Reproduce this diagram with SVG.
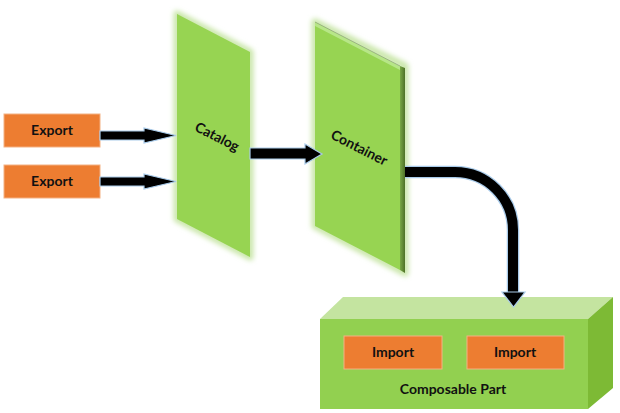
<svg xmlns="http://www.w3.org/2000/svg" width="620" height="413" viewBox="0 0 620 413">
<defs>
<style>
.lbl{font-family:Lato,"Liberation Sans",Arial,sans-serif;font-weight:bold;font-size:14px;fill:#111;text-anchor:middle}
.orange{fill:#ED7D31;stroke:#F4B183;stroke-width:1}
.panel{fill:#97D452}
.halo{fill:none;stroke:#C9E6A9;stroke-width:7;stroke-linejoin:round}
.arr{fill:#000;stroke:#A9CBEA;stroke-width:1.2;stroke-linejoin:miter}
</style>
<filter id="blur" x="-20%" y="-20%" width="140%" height="140%"><feGaussianBlur stdDeviation="2.5"/></filter>
<linearGradient id="side" x1="0" y1="0" x2="1" y2="0">
<stop offset="0" stop-color="#78A845"/><stop offset="1" stop-color="#4E7128"/>
</linearGradient>
</defs>
<rect width="620" height="413" fill="#fff"/>

<g id="export1">
<rect class="orange" x="4" y="114" width="96" height="33"/>
<text class="lbl" x="52" y="135">Export</text>
</g>
<g id="export2">
<rect class="orange" x="4" y="165" width="96" height="33"/>
<text class="lbl" x="52" y="186">Export</text>
</g>

<g id="catalog">
<polygon class="halo" filter="url(#blur)" points="177,14 250,52 250,257 177,219"/>
<polygon class="panel" points="177,14 250,52 250,257 177,219"/>
<text class="lbl" transform="translate(215,141) rotate(27)" x="0" y="0">Catalog</text>
</g>

<g id="container">
<polygon class="halo" filter="url(#blur)" points="315,22 405,66 405,273 315,226"/>
<polygon class="panel" points="315,22 400,68 400,270 315,226"/>
<polygon fill="#B7E688" points="315,22 400,66 400,70 315,26"/>
<line x1="315" y1="22" x2="400" y2="66" stroke="#8FA77A" stroke-width="0.8"/>
<polygon fill="url(#side)" points="400,66 405,68 405,273 400,270"/>
<text class="lbl" transform="translate(357,152) rotate(27)" x="0" y="0">Container</text>
</g>

<g id="composable">
<polygon fill="#C4E4A0" points="320,319 588,319 613,297 343,297"/>
<polygon fill="#7DBA35" points="588,319 613,297 613,388 588,409"/>
<rect x="320" y="319" width="268" height="90" fill="#92D050"/>
<g id="import1">
<rect class="orange" x="344" y="336" width="98" height="33"/>
<text class="lbl" x="393" y="357">Import</text>
</g>
<g id="import2">
<rect class="orange" x="467" y="336" width="97" height="33"/>
<text class="lbl" x="515" y="357">Import</text>
</g>
<text class="lbl" x="453" y="394">Composable Part</text>
</g>

<g id="connectors">
<polygon class="arr" points="100,131 144,131 144,128 176,135.5 144,143 144,140 100,140"/>
<polygon class="arr" points="100,177 144,177 144,174 176,181.5 144,189 144,186 100,186"/>
<polygon class="arr" points="250,148 305,148 305,144 322,154 305,164 305,159 250,159"/>
<path d="M405,172 H455 A58,58 0 0 1 513,230 V293" fill="none" stroke="#A9CBEA" stroke-width="12.5"/>
<path d="M405,172 H455 A58,58 0 0 1 513,230 V294" fill="none" stroke="#000" stroke-width="10"/>
<polygon class="arr" points="502,292 525,292 513.5,307"/>
</g>
</svg>
